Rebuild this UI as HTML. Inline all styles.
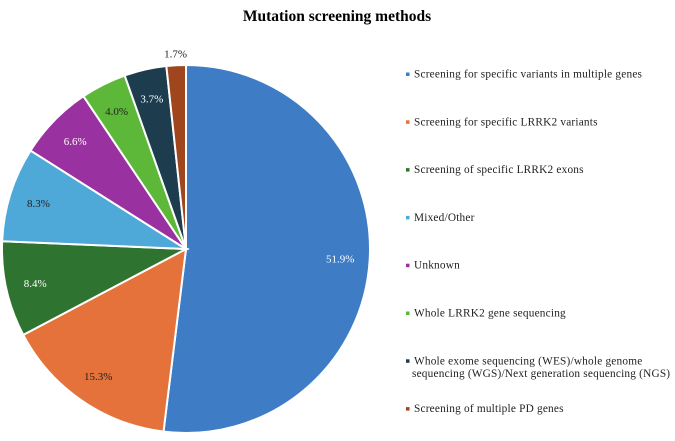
<!DOCTYPE html>
<html><head><meta charset="utf-8"><style>
body{margin:0;background:#fff;}
svg text{font-family:"Liberation Serif",serif;}
</style></head><body>
<svg id="chart" width="675" height="436" xmlns="http://www.w3.org/2000/svg">
<text x="337" y="21" text-anchor="middle" font-size="15.5" font-weight="bold" fill="#000">Mutation screening methods</text>
<g id="slices"></g><g id="labels"></g><g id="legend"></g>
</svg>
<script>
const categories=["Screening for specific variants in multiple genes","Screening for specific LRRK2 variants","Screening of specific LRRK2 exons","Mixed/Other","Unknown","Whole LRRK2 gene sequencing","Whole exome sequencing (WES)/whole genome|sequencing (WGS)/Next generation sequencing (NGS)","Screening of multiple PD genes"];
const values=[51.9,15.3,8.4,8.3,6.6,4.0,3.7,1.7];
const valueLabels=["51.9%","15.3%","8.4%","8.3%","6.6%","4.0%","3.7%","1.7%"];
const colors=["#3e7cc6","#e5723a","#2e7430","#4ea9d8","#9a31a0","#5db83a","#1d3d4f","#a0461e"];
const labelColors=["#fff","#222","#fff","#222","#fff","#222","#fff","#222"];
const cx=186,cy=249,R=184;
const NS="http://www.w3.org/2000/svg";
const total=values.reduce((a,b)=>a+b,0);
const pt=(a,r)=>[cx+r*Math.sin(a),cy-r*Math.cos(a)];
let acc=0;
const gS=document.getElementById('slices'),gL=document.getElementById('labels'),gG=document.getElementById('legend');
values.forEach((v,i)=>{
  const a0=acc/total*2*Math.PI;acc+=v;const a1=acc/total*2*Math.PI;
  const p0=pt(a0,R),p1=pt(a1,R);
  const p=document.createElementNS(NS,'path');
  p.setAttribute('d',`M${cx},${cy}L${p0[0]},${p0[1]}A${R},${R} 0 ${a1-a0>Math.PI?1:0} 1 ${p1[0]},${p1[1]}Z`);
  p.setAttribute('fill',colors[i]);p.setAttribute('stroke','#fff');p.setAttribute('stroke-width','2');
  
  
  gS.appendChild(p);
  const m=(a0+a1)/2;const outside=v<2.5;
  const lp=pt(m,outside?R+12:R*0.84);
  const t=document.createElementNS(NS,'text');
  t.setAttribute('x',lp[0]);t.setAttribute('y',lp[1]+4);t.setAttribute('text-anchor','middle');
  t.setAttribute('font-size','11');t.setAttribute('fill',labelColors[i]);t.textContent=valueLabels[i];
  
  
  gL.appendChild(t);
  const y=76+i*47.8;
  const r=document.createElementNS(NS,'rect');
  r.setAttribute('x',406);r.setAttribute('y',y-3.5);r.setAttribute('width',3.5);r.setAttribute('height',3.5);r.setAttribute('fill',colors[i]);
  
  
  gG.appendChild(r);
  categories[i].split('|').forEach((ln,j)=>{
    const lt=document.createElementNS(NS,'text');
    lt.setAttribute('x',j?412:414);lt.setAttribute('y',y+1.5+j*12.5);lt.setAttribute('font-size','11.3');lt.setAttribute('letter-spacing','0.2');lt.setAttribute('fill','#222');
    lt.textContent=ln;
    
    
    gG.appendChild(lt);
  });
});
</script>
</body></html>
